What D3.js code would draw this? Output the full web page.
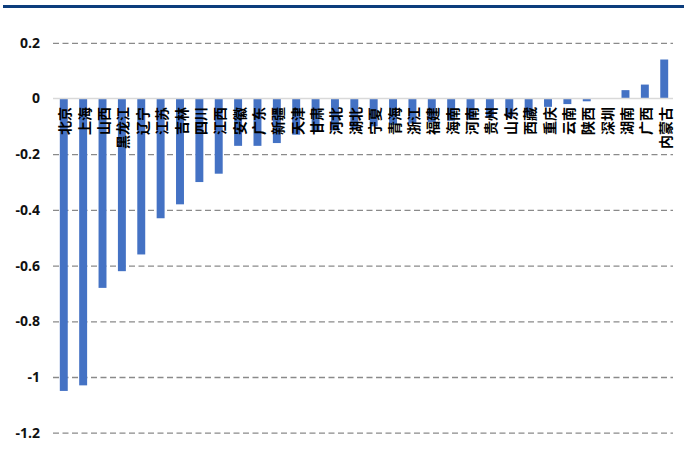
<!DOCTYPE html>
<html>
<head>
<meta charset="utf-8">
<script src="https://cdn.jsdelivr.net/npm/d3@7/dist/d3.min.js"></script>
<style>
  html, body { margin: 0; padding: 0; background: #fff; }
  svg { display: block; }
</style>
</head>
<body>
<svg id="chart" width="684" height="464"></svg>
<script>
// Provinces and their values, left to right
const regions = ["北京", "上海", "山西", "黑龙江", "辽宁", "江苏", "吉林", "四川", "江西", "安徽",
  "广东", "新疆", "天津", "甘肃", "河北", "湖北", "宁夏", "青海", "浙江", "福建",
  "海南", "河南", "贵州", "山东", "西藏", "重庆", "云南", "陕西", "深圳", "湖南",
  "广西", "内蒙古"];
const values = [-1.05, -1.03, -0.68, -0.62, -0.56, -0.43, -0.38, -0.30, -0.27, -0.17,
  -0.17, -0.16, -0.13, -0.12, -0.115, -0.11, -0.10, -0.095, -0.09, -0.085,
  -0.08, -0.075, -0.07, -0.065, -0.06, -0.03, -0.02, -0.01, 0, 0.03,
  0.05, 0.14];
const yTicks = [0.2, 0, -0.2, -0.4, -0.6, -0.8, -1, -1.2];

const svg = d3.select("#chart");

// Header rule
svg.append("rect")
  .attr("x", 3).attr("y", 5).attr("width", 681).attr("height", 3)
  .attr("fill", "#0c3d7c");

const x = d3.scaleBand().domain(regions).range([54, 674]).paddingInner(0.59).paddingOuter(0.3);
const y = d3.scaleLinear().domain([-1.2, 0.2]).range([432.7, 42.8]);

// Dashed gridlines with value labels
const yAxis = d3.axisLeft(y)
  .tickValues(yTicks.filter(v => v !== 0))
  .tickSize(-620)
  .tickPadding(13)
  .tickFormat(d => String(d));

const gy = svg.append("g").attr("transform", "translate(53,0)").call(yAxis);
gy.select(".domain").remove();
gy.selectAll(".tick line")
  .attr("stroke", "#8a8a8a")
  .attr("stroke-width", 1.3)
  .attr("stroke-dasharray", "6,3.5");
gy.selectAll(".tick text")
  .attr("fill", "#111")
  .style("font-family", "'Open Sans', sans-serif")
  .style("font-size", "14px")
  .style("font-weight", "700");

// Zero label drawn alongside the solid baseline
svg.append("text")
  .attr("x", 40).attr("y", y(0)).attr("dy", "0.32em")
  .attr("text-anchor", "end")
  .attr("fill", "#111")
  .style("font-family", "'Open Sans', sans-serif")
  .style("font-size", "14px")
  .style("font-weight", "700")
  .text("0");

// Bars
svg.append("g").selectAll("rect")
  .data(regions.map((r, i) => ({ r, v: values[i] })))
  .join("rect")
  .attr("x", d => x(d.r))
  .attr("width", x.bandwidth())
  .attr("y", d => y(Math.max(0, d.v)))
  .attr("height", d => Math.abs(y(d.v) - y(0)))
  .attr("fill", "#4472c4");

// Baseline
svg.append("line")
  .attr("x1", 53).attr("x2", 673)
  .attr("y1", y(0)).attr("y2", y(0))
  .attr("stroke", "#d9d9d9").attr("stroke-width", 1.3);

// Vertical category labels hanging below the baseline
svg.append("g").selectAll("text")
  .data(regions)
  .join("text")
  .attr("transform", d => `translate(${x(d) + x.bandwidth() / 2 + 1.5},107) rotate(-90)`)
  .attr("text-anchor", "end")
  .attr("dy", "0.36em")
  .attr("fill", "#000")
  .style("font-family", "'Noto Sans CJK SC', sans-serif")
  .style("font-size", "14px")
  .style("font-weight", "700")
  .text(d => d);
</script>
</body>
</html>
